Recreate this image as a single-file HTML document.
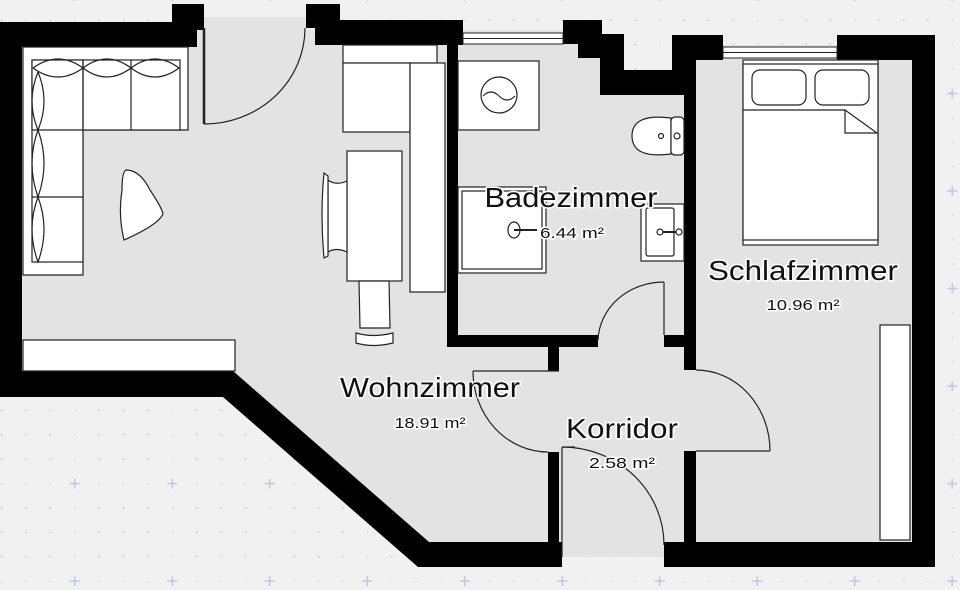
<!DOCTYPE html>
<html><head><meta charset="utf-8"><style>
html,body{margin:0;padding:0;background:#f1f1f1;}
svg{display:block}
text{font-family:"Liberation Sans",sans-serif;fill:#111;paint-order:stroke;stroke:#fff;stroke-width:3px;stroke-linejoin:round;text-anchor:middle}
</style></head><body>
<svg width="960" height="590" viewBox="0 0 960 590" xmlns="http://www.w3.org/2000/svg">
<defs>
<pattern id="g" x="-22.75" y="-4" width="97.5" height="97.5" patternUnits="userSpaceOnUse">
<g fill="#c9ccd2">
<circle cx="24.4" cy="0" r="1"/><circle cx="48.8" cy="0" r="1"/><circle cx="73.1" cy="0" r="1"/>
<circle cx="0" cy="24.4" r="1"/><circle cx="24.4" cy="24.4" r="1"/><circle cx="48.8" cy="24.4" r="1"/><circle cx="73.1" cy="24.4" r="1"/>
<circle cx="0" cy="48.8" r="1"/><circle cx="24.4" cy="48.8" r="1"/><circle cx="48.8" cy="48.8" r="1"/><circle cx="73.1" cy="48.8" r="1"/>
<circle cx="0" cy="73.1" r="1"/><circle cx="24.4" cy="73.1" r="1"/><circle cx="48.8" cy="73.1" r="1"/><circle cx="73.1" cy="73.1" r="1"/>
</g>
<path d="M-5 0H5M0 -5V5M92.5 0H102.5M97.5 -5V5M-5 97.5H5M0 92.5V102.5M92.5 97.5H102.5M97.5 92.5V102.5" stroke="#b9c9df" stroke-width="1.5"/>
</pattern>
</defs>
<rect width="960" height="590" fill="#f1f1f1"/>
<rect width="960" height="590" fill="url(#g)"/>

<!-- floor -->
<polygon fill="#e3e3e3" points="22,30 578,30 578,58 600,58 600,95 672,95 672,45 912,45 912,545 664,545 664,557 562,557 562,545 418,545 233,371 22,371"/>
<rect x="204" y="17" width="102" height="32" fill="#e3e3e3"/>

<!-- walls -->
<g fill="#000">
<rect x="0" y="22" width="197" height="25"/>
<rect x="172" y="4" width="32" height="24"/>
<rect x="197" y="22" width="7" height="8"/>
<rect x="0" y="22" width="22" height="375"/>
<rect x="0" y="371" width="233" height="26"/>
<polygon points="233,371 429,542 562,542 562,567 418,567 223,397"/>
<rect x="306" y="4" width="34" height="24"/>
<rect x="315" y="20" width="148" height="25"/>
<rect x="447" y="20" width="11" height="327"/>
<rect x="447" y="335" width="151" height="12"/>
<rect x="548" y="335" width="11" height="36"/>
<rect x="548" y="452" width="11" height="93"/>
<rect x="563" y="20" width="39" height="24"/>
<rect x="578" y="34" width="46" height="24"/>
<rect x="600" y="34" width="24" height="61"/>
<rect x="600" y="70" width="85" height="25"/>
<rect x="672" y="35" width="51" height="25"/>
<rect x="672" y="35" width="24" height="60"/>
<rect x="684" y="35" width="12" height="335"/>
<rect x="664" y="335" width="32" height="12"/>
<rect x="684" y="451" width="12" height="116"/>
<rect x="837" y="35" width="98" height="25"/>
<rect x="912" y="35" width="23" height="532"/>
<rect x="664" y="542" width="271" height="25"/>
</g>

<!-- windows -->
<g fill="#fff" stroke="#222" stroke-width="1">
<rect x="463" y="33" width="100" height="11"/>
<line x1="463" y1="38.5" x2="563" y2="38.5"/>
<rect x="723" y="47" width="114" height="11"/>
<line x1="723" y1="52.5" x2="837" y2="52.5"/>
</g>

<g fill="#fff" stroke="#222" stroke-width="1.2">
<!-- sofa -->
<path d="M23 47H188V130H83V275H23Z"/>
<rect x="32" y="60" width="148" height="70"/>
<rect x="32" y="60" width="51" height="202"/>
<line x1="83" y1="60" x2="83" y2="130"/><line x1="131" y1="60" x2="131" y2="130"/>
<line x1="32" y1="197" x2="83" y2="197"/><line x1="32" y1="130" x2="83" y2="130"/>
<path d="M33 68Q58 50 83 68Q58 86 33 68M83 68Q107 50 131 68Q107 86 83 68M131 68Q155 50 179 68Q155 86 131 68" fill="none"/>
<path d="M38 72Q26 101 38 130Q50 101 38 72M38 130Q26 163 38 197Q50 163 38 130M38 197Q26 229 38 262Q50 229 38 197" fill="none"/>
<!-- chair triangle -->
<path d="M126 170Q140 170 150 190Q162 208 163 214Q158 225 124 240Q118 215 122 190Q122 172 126 170Z"/>
<!-- kitchen -->
<rect x="343" y="45" width="94" height="18"/>
<rect x="343" y="63" width="67" height="69"/>
<rect x="410" y="63" width="35" height="229"/>
<!-- table -->
<rect x="347" y="151" width="55" height="130"/>
<path d="M347 181Q336 186 328 180V252Q336 247 347 252Z"/>
<path d="M324 173Q320 215 324 258L328 256V176Z"/>
<path d="M359 281L360 328H390L389 281Z"/>
<path d="M356 333Q373 338 393 333V343Q373 348 356 343Z"/>
<!-- counter, wardrobe -->
<rect x="23" y="340" width="212" height="31"/>
<rect x="880" y="325" width="30" height="215"/>
<!-- washing machine -->
<rect x="458" y="61" width="81" height="69"/>
<circle cx="499" cy="95" r="18"/>
<path d="M483 96Q491 88 499 96Q507 104 515 96" fill="none"/>
<!-- toilet -->
<path d="M671 118Q632 113 632 136Q632 159 671 154Z"/>
<rect x="671" y="117" width="13" height="38" rx="4"/>
<circle cx="661" cy="136" r="2.5"/><circle cx="677" cy="136" r="3"/>
<!-- shower -->
<rect x="458" y="187" width="88" height="86"/>
<rect x="462" y="191" width="80" height="78"/>
<ellipse cx="514" cy="230" rx="6" ry="8"/>
<line x1="514" y1="230" x2="537" y2="230" stroke-width="2"/>
<!-- sink -->
<rect x="641" y="204" width="43" height="57"/>
<rect x="646" y="208" width="28" height="48" rx="2"/>
<circle cx="660" cy="232" r="3"/><circle cx="679" cy="232" r="3"/>
<line x1="663" y1="232" x2="676" y2="232" stroke-width="2"/>
<!-- bed -->
<rect x="743" y="60" width="135" height="185"/>
<rect x="743" y="64" width="135" height="176"/>
<rect x="752" y="70" width="54" height="35" rx="8"/>
<rect x="815" y="70" width="54" height="35" rx="8"/>
<line x1="743" y1="110" x2="845" y2="110"/>
<path d="M845 110L877 133H845Z"/>
</g>

<!-- doors -->
<g fill="none" stroke="#222" stroke-width="1.2">
<line x1="204" y1="28" x2="204" y2="124" stroke-width="2.5"/>
<path d="M204 124A101 96 0 0 0 305 28"/>
<line x1="664" y1="282" x2="664" y2="335"/>
<path d="M598 340A66 60 0 0 1 664 282"/>
<line x1="473" y1="371" x2="559" y2="371"/>
<path d="M473 371A75 81 0 0 0 548 452"/>
<line x1="696" y1="451" x2="770" y2="451"/>
<path d="M696 370A74 81 0 0 1 770 451"/>
<line x1="562" y1="447" x2="562" y2="557"/>
<line x1="562" y1="447" x2="575" y2="447"/>
<path d="M562 447A102 98 0 0 1 664 545"/>
</g>

<!-- labels -->
<text x="571" y="207" font-size="28" textLength="173" lengthAdjust="spacingAndGlyphs">Badezimmer</text>
<text x="572" y="238" font-size="15" textLength="64" lengthAdjust="spacingAndGlyphs">6.44 m²</text>
<text x="803" y="280" font-size="28" textLength="190" lengthAdjust="spacingAndGlyphs">Schlafzimmer</text>
<text x="803" y="310" font-size="15" textLength="73" lengthAdjust="spacingAndGlyphs">10.96 m²</text>
<text x="430" y="397" font-size="28" textLength="180" lengthAdjust="spacingAndGlyphs">Wohnzimmer</text>
<text x="430" y="428" font-size="15" textLength="71" lengthAdjust="spacingAndGlyphs">18.91 m²</text>
<text x="622" y="438" font-size="28" textLength="112" lengthAdjust="spacingAndGlyphs">Korridor</text>
<text x="622" y="468" font-size="15" textLength="66" lengthAdjust="spacingAndGlyphs">2.58 m²</text>
</svg>
</body></html>
